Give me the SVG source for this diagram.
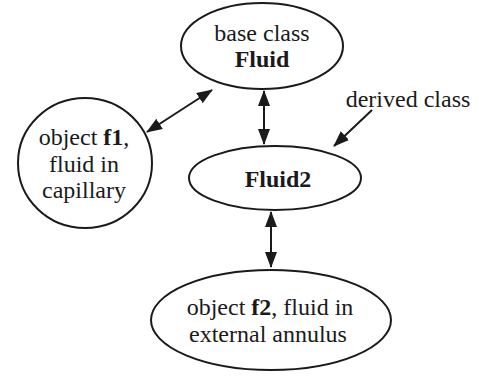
<svg xmlns="http://www.w3.org/2000/svg" width="479" height="376" viewBox="0 0 479 376">
<style>
.n{fill:#fff;stroke:#1a1a1a;stroke-width:2}
text{font-family:"Liberation Serif","Times New Roman",serif;font-size:24px;fill:#1a1a1a;text-anchor:middle}
.b{font-weight:bold}
.c{stroke:#1a1a1a;stroke-width:2;fill:none;marker-end:url(#ah)}
.d{marker-start:url(#ah)}
</style>
<defs>
<marker id="ah" markerUnits="userSpaceOnUse" markerWidth="18" markerHeight="14" refX="15" refY="6" orient="auto-start-reverse">
<path d="M0,0 L16,6 L0,12 z" fill="#1a1a1a"/>
</marker>
</defs>
<g id="connectors">
<path class="c d" d="M264,91 L264,144"/>
<path class="c d" d="M271,212 L271,267"/>
<path class="c d" d="M147,132 L212,90"/>
<path class="c" d="M372,110 L334,146"/>
</g>
<g id="fluid">
<ellipse class="n" cx="262" cy="46" rx="81" ry="43"/>
<text x="262" y="41">base class</text>
<text x="262" y="67" class="b">Fluid</text>
</g>
<g id="f1">
<ellipse class="n" cx="85" cy="163" rx="67" ry="65"/>
<text x="84" y="145">object <tspan class="b">f1</tspan>,</text>
<text x="84" y="172">fluid in</text>
<text x="84" y="198">capillary</text>
</g>
<g id="fluid2">
<ellipse class="n" cx="275" cy="178" rx="86" ry="32"/>
<text x="278" y="187" class="b">Fluid2</text>
</g>
<g id="derived">
<text x="408" y="107">derived class</text>
</g>
<g id="f2">
<ellipse class="n" cx="271" cy="320" rx="120" ry="50"/>
<text x="270" y="315">object <tspan class="b">f2</tspan>, fluid in</text>
<text x="268" y="342">external annulus</text>
</g>
</svg>
